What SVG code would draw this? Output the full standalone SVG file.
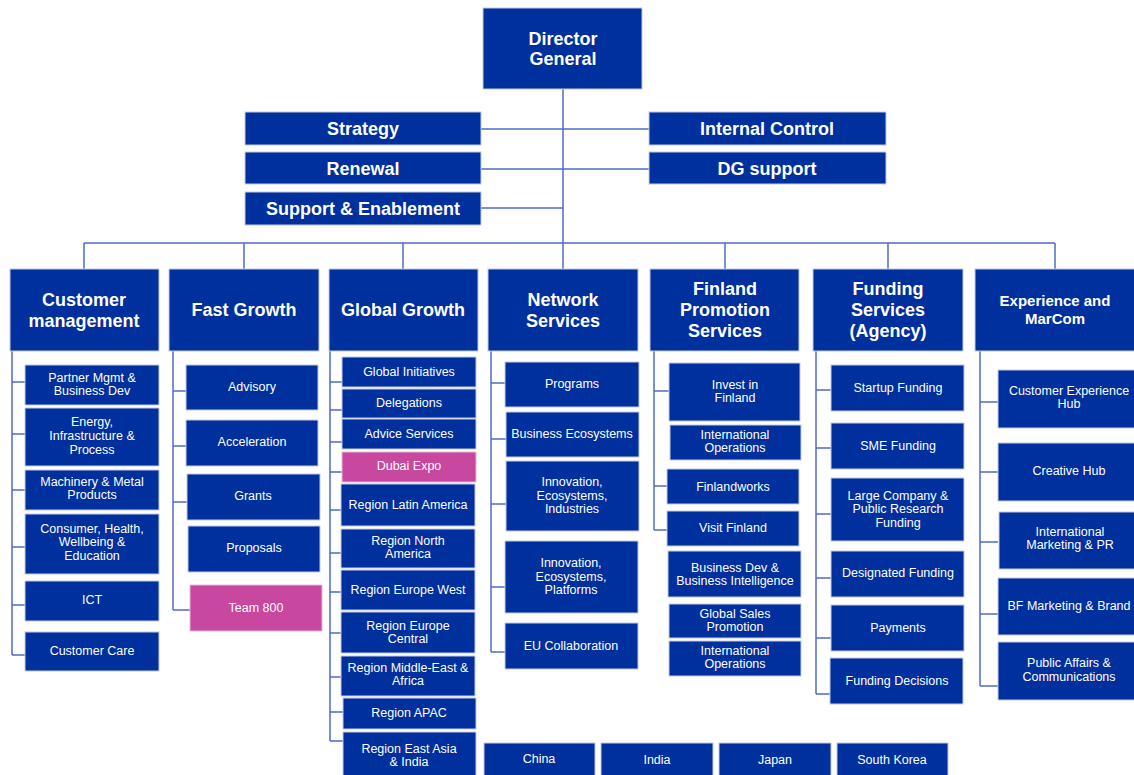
<svg xmlns="http://www.w3.org/2000/svg" width="1134" height="775" viewBox="0 0 1134 775">
<style>
.b{fill:#002f9e;stroke:#c3cbe3;stroke-width:1}
.p{fill:#c8479f;stroke:#e7b9d9;stroke-width:1}
text{font-family:"Liberation Sans",Arial,sans-serif;fill:#fff;text-anchor:middle}
.t{font-size:18px;font-weight:bold}
.h{font-size:18px;font-weight:bold}
.e{font-size:15px;font-weight:bold}
.c{font-size:12.5px}
#connectors path{fill:none;stroke:#4d6ec6;stroke-width:1.5}
</style>
<rect width="1134" height="775" fill="#fff"/>
<g id="connectors">
<path d="M563 89V243M481 129H649M481 169H649M481 208H563M84 243H1055M84 243V269M244 243V269M403 243V269M563 243V269M725 243V269M888 243V269M1055 243V269"/>
<path d="M12 351V655M12 382H25M12 434H25M12 490H25M12 547H25M12 605H25M12 655H25"/>
<path d="M173 351V610M173 391H186M173 446H186M173 502H187M173 610H190"/>
<path d="M330 351V741M330 382H342M330 410H342M330 442H342M330 472H342M330 510H341M330 553H341M330 592H341M330 633H341M330 677H341M330 712H343M330 741H343"/>
<path d="M491 351V652M491 383H505M491 439H506M491 504H506M491 587H505M491 652H505"/>
<path d="M654 351V530M654 391H669M654 486H667M654 530H667"/>
<path d="M816 351V694M816 390H831M816 448H831M816 514H831M816 578H831M816 638H831M816 694H830"/>
<path d="M980 351V686M980 402H998M980 472H998M980 542H998M980 614H998M980 686H998"/>
</g>
<g id="dg"><rect class="b" x="483" y="8" width="159" height="81"/><text class="t" x="563" y="45">Director</text><text class="t" x="563" y="65">General</text></g>
<g id="strategy"><rect class="b" x="245" y="112" width="236" height="33"/><text class="t" x="363" y="135">Strategy</text></g>
<g id="renewal"><rect class="b" x="245" y="152" width="236" height="32"/><text class="t" x="363" y="175">Renewal</text></g>
<g id="support"><rect class="b" x="245" y="192" width="236" height="33"/><text class="t" x="363" y="215">Support &amp; Enablement</text></g>
<g id="internal"><rect class="b" x="649" y="112" width="237" height="33"/><text class="t" x="767" y="135">Internal Control</text></g>
<g id="dgsupport"><rect class="b" x="649" y="152" width="237" height="32"/><text class="t" x="767" y="175">DG support</text></g>

<g id="h-cm"><rect class="b" x="10" y="269" width="149" height="82"/><text class="h" x="84" y="306">Customer</text><text class="h" x="84" y="327">management</text></g>
<g id="h-fg"><rect class="b" x="169" y="269" width="150" height="82"/><text class="h" x="244" y="316">Fast Growth</text></g>
<g id="h-gg"><rect class="b" x="329" y="269" width="149" height="82"/><text class="h" x="403" y="316">Global Growth</text></g>
<g id="h-ns"><rect class="b" x="488" y="269" width="150" height="82"/><text class="h" x="563" y="306">Network</text><text class="h" x="563" y="327">Services</text></g>
<g id="h-fp"><rect class="b" x="650" y="269" width="149" height="82"/><text class="h" x="725" y="295">Finland</text><text class="h" x="725" y="316">Promotion</text><text class="h" x="725" y="337">Services</text></g>
<g id="h-fs"><rect class="b" x="813" y="269" width="150" height="82"/><text class="h" x="888" y="295">Funding</text><text class="h" x="888" y="316">Services</text><text class="h" x="888" y="337">(Agency)</text></g>
<g id="h-ex"><rect class="b" x="975" y="269" width="160" height="82"/><text class="e" x="1055" y="306">Experience and</text><text class="e" x="1055" y="324">MarCom</text></g>

<g id="cm1"><rect class="b" x="25" y="365" width="134" height="40"/><text class="c" x="92" y="382">Partner Mgmt &amp;</text><text class="c" x="92" y="395">Business Dev</text></g>
<g id="cm2"><rect class="b" x="25" y="408" width="134" height="58"/><text class="c" x="92" y="426">Energy,</text><text class="c" x="92" y="440">Infrastructure &amp;</text><text class="c" x="92" y="454">Process</text></g>
<g id="cm3"><rect class="b" x="25" y="470" width="134" height="40"/><text class="c" x="92" y="486">Machinery &amp; Metal</text><text class="c" x="92" y="499">Products</text></g>
<g id="cm4"><rect class="b" x="25" y="514" width="134" height="60"/><text class="c" x="92" y="533">Consumer, Health,</text><text class="c" x="92" y="546">Wellbeing &amp;</text><text class="c" x="92" y="560">Education</text></g>
<g id="cm5"><rect class="b" x="25" y="581" width="134" height="40"/><text class="c" x="92" y="604">ICT</text></g>
<g id="cm6"><rect class="b" x="25" y="632" width="134" height="39"/><text class="c" x="92" y="655">Customer Care</text></g>

<g id="fg1"><rect class="b" x="186" y="365" width="132" height="45"/><text class="c" x="252" y="391">Advisory</text></g>
<g id="fg2"><rect class="b" x="186" y="420" width="132" height="46"/><text class="c" x="252" y="446">Acceleration</text></g>
<g id="fg3"><rect class="b" x="187" y="474" width="133" height="46"/><text class="c" x="253" y="500">Grants</text></g>
<g id="fg4"><rect class="b" x="188" y="526" width="132" height="46"/><text class="c" x="254" y="552">Proposals</text></g>
<g id="fg5"><rect class="p" x="190" y="585" width="132" height="46"/><text class="c" x="256" y="612">Team 800</text></g>

<g id="gg1"><rect class="b" x="342" y="357" width="134" height="30"/><text class="c" x="409" y="376">Global Initiatives</text></g>
<g id="gg2"><rect class="b" x="342" y="389" width="134" height="29"/><text class="c" x="409" y="407">Delegations</text></g>
<g id="gg3"><rect class="b" x="342" y="419" width="134" height="30"/><text class="c" x="409" y="438">Advice Services</text></g>
<g id="gg4"><rect class="p" x="342" y="452" width="134" height="30"/><text class="c" x="409" y="470">Dubai Expo</text></g>
<g id="gg5"><rect class="b" x="341" y="484" width="134" height="42"/><text class="c" x="408" y="509">Region Latin America</text></g>
<g id="gg6"><rect class="b" x="341" y="529" width="134" height="39"/><text class="c" x="408" y="545">Region North</text><text class="c" x="408" y="558">America</text></g>
<g id="gg7"><rect class="b" x="341" y="570" width="134" height="40"/><text class="c" x="408" y="594">Region Europe West</text></g>
<g id="gg8"><rect class="b" x="341" y="612" width="134" height="41"/><text class="c" x="408" y="630">Region Europe</text><text class="c" x="408" y="643">Central</text></g>
<g id="gg9"><rect class="b" x="341" y="656" width="134" height="40"/><text class="c" x="408" y="672">Region Middle-East &amp;</text><text class="c" x="408" y="685">Africa</text></g>
<g id="gg10"><rect class="b" x="343" y="698" width="133" height="31"/><text class="c" x="409" y="717">Region APAC</text></g>
<g id="gg11"><rect class="b" x="343" y="732" width="133" height="44"/><text class="c" x="409" y="753">Region East Asia</text><text class="c" x="409" y="766">&amp; India</text></g>

<g id="ns1"><rect class="b" x="505" y="362" width="134" height="45"/><text class="c" x="572" y="388">Programs</text></g>
<g id="ns2"><rect class="b" x="506" y="412" width="133" height="45"/><text class="c" x="572" y="438">Business Ecosystems</text></g>
<g id="ns3"><rect class="b" x="506" y="461" width="133" height="70"/><text class="c" x="572" y="486">Innovation,</text><text class="c" x="572" y="500">Ecosystems,</text><text class="c" x="572" y="513">Industries</text></g>
<g id="ns4"><rect class="b" x="505" y="541" width="133" height="72"/><text class="c" x="571" y="567">Innovation,</text><text class="c" x="571" y="581">Ecosystems,</text><text class="c" x="571" y="594">Platforms</text></g>
<g id="ns5"><rect class="b" x="505" y="623" width="133" height="46"/><text class="c" x="571" y="650">EU Collaboration</text></g>

<g id="fp1"><rect class="b" x="669" y="363" width="131" height="58"/><text class="c" x="735" y="389">Invest in</text><text class="c" x="735" y="402">Finland</text></g>
<g id="fp2"><rect class="b" x="670" y="425" width="131" height="35"/><text class="c" x="735" y="439">International</text><text class="c" x="735" y="452">Operations</text></g>
<g id="fp3"><rect class="b" x="667" y="469" width="132" height="35"/><text class="c" x="733" y="491">Finlandworks</text></g>
<g id="fp4"><rect class="b" x="667" y="511" width="132" height="35"/><text class="c" x="733" y="532">Visit Finland</text></g>
<g id="fp5"><rect class="b" x="668" y="551" width="133" height="46"/><text class="c" x="735" y="572">Business Dev &amp;</text><text class="c" x="735" y="585">Business Intelligence</text></g>
<g id="fp6"><rect class="b" x="669" y="604" width="132" height="34"/><text class="c" x="735" y="618">Global Sales</text><text class="c" x="735" y="631">Promotion</text></g>
<g id="fp7"><rect class="b" x="669" y="641" width="132" height="35"/><text class="c" x="735" y="655">International</text><text class="c" x="735" y="668">Operations</text></g>

<g id="fs1"><rect class="b" x="831" y="365" width="133" height="46"/><text class="c" x="898" y="392">Startup Funding</text></g>
<g id="fs2"><rect class="b" x="831" y="423" width="133" height="46"/><text class="c" x="898" y="450">SME Funding</text></g>
<g id="fs3"><rect class="b" x="831" y="478" width="133" height="63"/><text class="c" x="898" y="500">Large Company &amp;</text><text class="c" x="898" y="513">Public Research</text><text class="c" x="898" y="527">Funding</text></g>
<g id="fs4"><rect class="b" x="831" y="551" width="133" height="46"/><text class="c" x="898" y="577">Designated Funding</text></g>
<g id="fs5"><rect class="b" x="831" y="605" width="133" height="46"/><text class="c" x="898" y="632">Payments</text></g>
<g id="fs6"><rect class="b" x="830" y="658" width="133" height="46"/><text class="c" x="897" y="685">Funding Decisions</text></g>

<g id="ex1"><rect class="b" x="998" y="370" width="137" height="58"/><text class="c" x="1069" y="395">Customer Experience</text><text class="c" x="1069" y="408">Hub</text></g>
<g id="ex2"><rect class="b" x="998" y="443" width="137" height="58"/><text class="c" x="1069" y="475">Creative Hub</text></g>
<g id="ex3"><rect class="b" x="999" y="512" width="136" height="57"/><text class="c" x="1070" y="536">International</text><text class="c" x="1070" y="549">Marketing &amp; PR</text></g>
<g id="ex4"><rect class="b" x="998" y="578" width="137" height="57"/><text class="c" x="1069" y="610">BF Marketing &amp; Brand</text></g>
<g id="ex5"><rect class="b" x="998" y="642" width="137" height="58"/><text class="c" x="1069" y="667">Public Affairs &amp;</text><text class="c" x="1069" y="681">Communications</text></g>

<g id="china"><rect class="b" x="484" y="743" width="111" height="33"/><text class="c" x="539" y="763">China</text></g>
<g id="india"><rect class="b" x="601" y="743" width="112" height="33"/><text class="c" x="657" y="764">India</text></g>
<g id="japan"><rect class="b" x="719" y="743" width="112" height="33"/><text class="c" x="775" y="764">Japan</text></g>
<g id="skorea"><rect class="b" x="837" y="743" width="111" height="33"/><text class="c" x="892" y="764">South Korea</text></g>
</svg>
